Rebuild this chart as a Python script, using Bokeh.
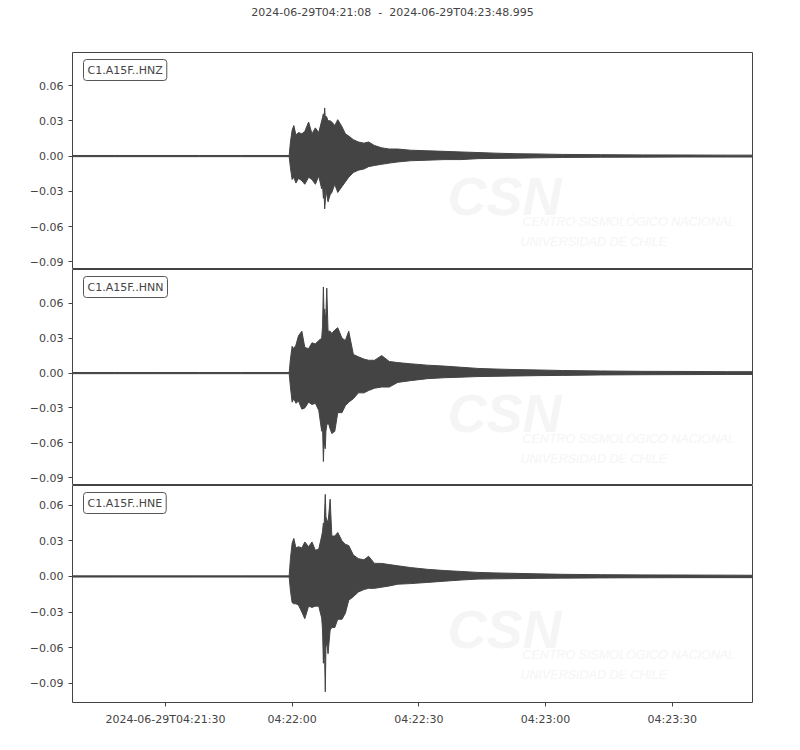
from bokeh.plotting import figure
from bokeh.layouts import column
from bokeh.models import Range1d, FixedTicker, CustomJSTickFormatter, Label
from bokeh.embed import file_html
from bokeh.resources import INLINE

# seconds after 2024-06-29T04:21:08
times = [0, 10, 20, 30, 40, 51.3,
         51.6, 52.0, 52.4, 52.9, 53.5, 54.3, 55.0, 55.9, 56.7, 57.5,
         58.3, 59.0, 59.2, 59.4, 59.55, 59.7, 59.85, 60.0, 60.2, 60.5,
         61.0, 61.4, 62.1, 62.8, 63.8, 64.6, 65.4, 66.5, 67.7, 69.0,
         70.1, 71.5, 73.2, 75.0, 77.0,
         80, 84, 88, 92, 96, 100, 105, 110, 116, 125, 135, 145, 155, 161]

# envelope of each trace (m/s), upper and lower
hnz_upper = [0.0005] * 6 + [
    0.012, 0.022, 0.026, 0.018, 0.020, 0.019, 0.021, 0.029, 0.019, 0.024,
    0.020, 0.030, 0.033, 0.036, 0.030, 0.041, 0.032, 0.034, 0.033, 0.030,
    0.030, 0.029, 0.026, 0.031, 0.025, 0.019, 0.017, 0.014, 0.012, 0.011,
    0.012, 0.009, 0.007, 0.006, 0.006,
    0.005, 0.0045, 0.004, 0.0035, 0.003, 0.0025, 0.002, 0.0018, 0.0014, 0.0012,
    0.001, 0.0009, 0.0008, 0.0008]
hnz_lower = [-0.0005] * 6 + [
    -0.010, -0.020, -0.018, -0.023, -0.019, -0.021, -0.024, -0.018, -0.020, -0.024,
    -0.017, -0.028, -0.025, -0.036, -0.030, -0.045, -0.039, -0.028, -0.033, -0.039,
    -0.033, -0.031, -0.024, -0.031, -0.026, -0.022, -0.018, -0.014, -0.012, -0.011,
    -0.009, -0.008, -0.007, -0.006, -0.005,
    -0.004, -0.0035, -0.003, -0.003, -0.0022, -0.002, -0.0018, -0.0015, -0.0012, -0.001,
    -0.0009, -0.0008, -0.0008, -0.0008]

hnn_upper = [0.0005] * 6 + [
    0.012, 0.023, 0.021, 0.024, 0.032, 0.036, 0.022, 0.021, 0.026, 0.025,
    0.028, 0.030, 0.040, 0.074, 0.050, 0.055, 0.048, 0.050, 0.073, 0.036,
    0.036, 0.034, 0.037, 0.039, 0.030, 0.028, 0.036, 0.016, 0.014, 0.012,
    0.011, 0.011, 0.015, 0.010, 0.009,
    0.008, 0.0068, 0.006, 0.005, 0.004, 0.0035, 0.003, 0.0027, 0.0022, 0.0018,
    0.0015, 0.0014, 0.0012, 0.0012]
hnn_lower = [-0.0005] * 6 + [
    -0.012, -0.025, -0.022, -0.026, -0.024, -0.031, -0.030, -0.025, -0.027, -0.026,
    -0.032, -0.050, -0.045, -0.076, -0.060, -0.062, -0.065, -0.050, -0.045, -0.042,
    -0.048, -0.052, -0.050, -0.034, -0.034, -0.028, -0.025, -0.022, -0.017, -0.017,
    -0.015, -0.013, -0.012, -0.012, -0.008,
    -0.0065, -0.0048, -0.004, -0.0035, -0.003, -0.0028, -0.0025, -0.0022, -0.002, -0.0016,
    -0.0014, -0.0013, -0.0012, -0.0012]

hne_upper = [0.0005] * 6 + [
    0.015, 0.028, 0.032, 0.024, 0.025, 0.024, 0.029, 0.025, 0.029, 0.022,
    0.023, 0.034, 0.038, 0.045, 0.040, 0.055, 0.069, 0.050, 0.048, 0.045,
    0.065, 0.034, 0.034, 0.037, 0.030, 0.027, 0.026, 0.018, 0.015, 0.014,
    0.017, 0.011, 0.011, 0.010, 0.009,
    0.0075, 0.006, 0.005, 0.0042, 0.0034, 0.003, 0.0026, 0.0022, 0.0018, 0.0015,
    0.0013, 0.0012, 0.0011, 0.001]
hne_lower = [-0.0005] * 6 + [
    -0.012, -0.022, -0.023, -0.023, -0.024, -0.030, -0.0355, -0.025, -0.026, -0.025,
    -0.025, -0.035, -0.045, -0.073, -0.055, -0.070, -0.097, -0.060, -0.055, -0.065,
    -0.045, -0.043, -0.043, -0.036, -0.036, -0.031, -0.020, -0.017, -0.013, -0.011,
    -0.010, -0.010, -0.009, -0.008, -0.0065,
    -0.006, -0.005, -0.004, -0.003, -0.0022, -0.002, -0.0018, -0.0016, -0.0014, -0.0012,
    -0.0011, -0.001, -0.001, -0.001]

channels = ["C1.A15F..HNZ", "C1.A15F..HNN", "C1.A15F..HNE"]
y_limits = [(-0.0966, 0.0882), (-0.0966, 0.089), (-0.106, 0.0765)]
y_ticks = [-0.09, -0.06, -0.03, 0.0, 0.03, 0.06]
x_ticks = [22, 52, 82, 112, 142]
x_tick_labels = ["2024-06-29T04:21:30", "04:22:00", "04:22:30", "04:23:00", "04:23:30"]
title_text = "2024-06-29T04:21:08 \u00a0-\u00a0 2024-06-29T04:23:48.995"

INK = "#444444"
FONT = "DejaVu Sans"
WATERMARK = "#f5f5f5"

traces = [(hnz_upper, hnz_lower), (hnn_upper, hnn_lower), (hne_upper, hne_lower)]
frame_heights = [217, 216, 217]

x_range = Range1d(0, 160.995)

# header strip carrying the time-span title
header = figure(frame_width=680, frame_height=30, x_range=x_range,
                x_axis_type=None, y_axis_type=None, output_backend="svg",
                toolbar_location=None, min_border_left=72, min_border_right=32,
                min_border_top=0, min_border_bottom=0)
header.outline_line_color = None
header.grid.visible = False
header.add_layout(Label(x=320, y=18, x_units="screen", y_units="screen",
                        text=title_text, text_font=FONT, text_font_size="11px",
                        text_color=INK, text_align="center", text_baseline="middle"))

panels = [header]
for i, (name, (up, lo), (y0, y1)) in enumerate(zip(channels, traces, y_limits)):
    fh = frame_heights[i]
    p = figure(frame_width=680, frame_height=fh, x_range=x_range,
               y_range=Range1d(y0, y1), output_backend="svg",
               toolbar_location=None,
               min_border_left=72, min_border_right=32,
               min_border_top=22 if i == 0 else 0,
               min_border_bottom=32 if i == 2 else 0)
    p.grid.visible = False
    p.outline_line_color = INK
    p.outline_line_width = 1

    # faint watermark
    p.add_layout(Label(x=375, y=fh - 143, x_units="screen", y_units="screen",
                       text="CSN", text_font="Liberation Sans",
                       text_font_style="bold italic", text_font_size="54px",
                       text_color=WATERMARK, text_baseline="alphabetic"))
    p.add_layout(Label(x=450, y=fh - 169, x_units="screen", y_units="screen",
                       text="CENTRO SISMOLÓGICO NACIONAL",
                       text_font="Liberation Sans", text_font_style="italic",
                       text_font_size="12.5px", text_color=WATERMARK,
                       text_baseline="alphabetic"))
    p.add_layout(Label(x=448, y=fh - 189, x_units="screen", y_units="screen",
                       text="UNIVERSIDAD DE CHILE",
                       text_font="Liberation Sans", text_font_style="italic",
                       text_font_size="12.5px", text_color=WATERMARK,
                       text_baseline="alphabetic"))

    p.varea(x=times, y1=lo, y2=up, fill_color=INK)
    p.line(times, up, line_color=INK, line_width=1)
    p.line(times, lo, line_color=INK, line_width=1)

    p.add_layout(Label(x=11, y=fh - 7, x_units="screen", y_units="screen",
                       text=name, text_font=FONT, text_font_size="11px",
                       text_color=INK, text_baseline="top", text_align="left",
                       padding=4, border_radius=3, border_line_color="#555555",
                       border_line_width=1, background_fill_color="white"))

    p.yaxis.ticker = FixedTicker(ticks=y_ticks)
    p.yaxis.formatter = CustomJSTickFormatter(
        code="return tick.toFixed(2).replace('-', '\\u2212');")
    for ax in [p.xaxis[0], p.yaxis[0]]:
        ax.axis_line_color = None
        ax.major_tick_line_color = INK
        ax.major_tick_in = 0
        ax.major_tick_out = 4
        ax.minor_tick_line_color = None
        ax.major_label_text_font = FONT
        ax.major_label_text_font_size = "11px"
        ax.major_label_text_color = INK
        ax.major_label_standoff = 5

    p.xaxis.ticker = FixedTicker(ticks=x_ticks)
    p.xaxis.major_label_overrides = dict(zip(x_ticks, x_tick_labels))
    p.xaxis.major_label_standoff = 6
    if i < 2:
        p.xaxis.visible = False
    panels.append(p)

layout = column(*panels, spacing=0)
open("out.html", "w").write(file_html(layout, INLINE))
